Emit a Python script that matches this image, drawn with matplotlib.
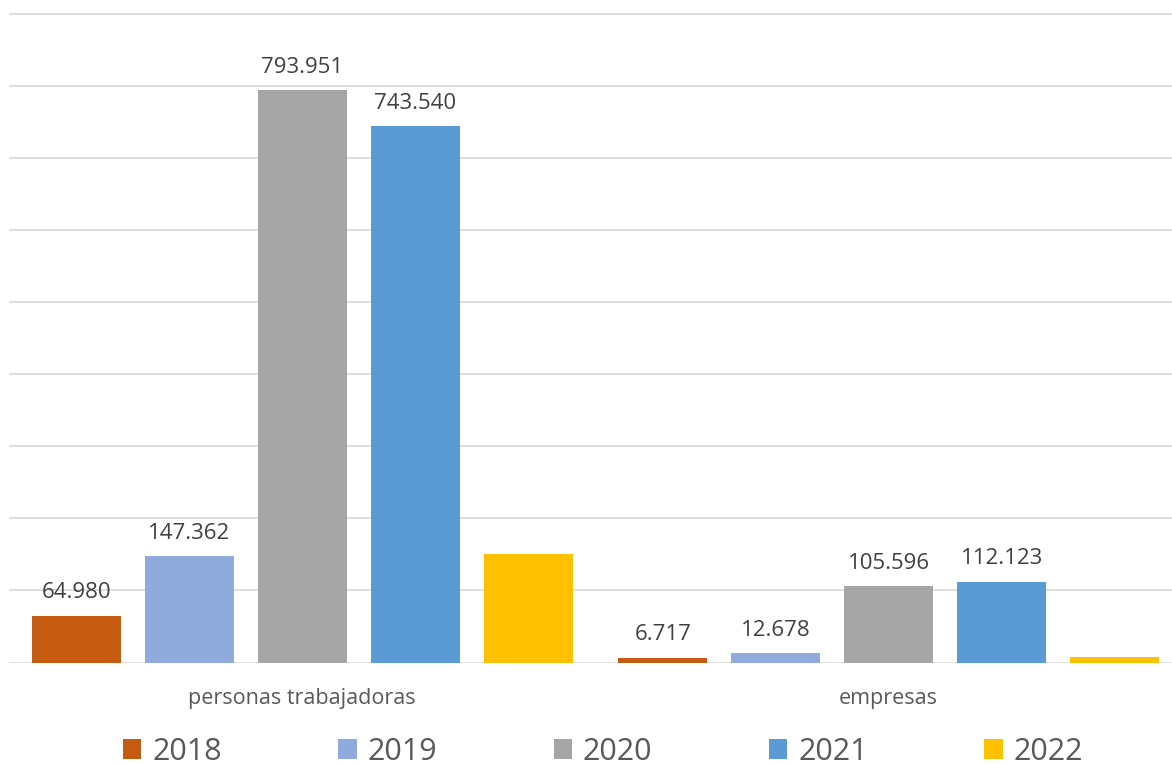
import numpy as np
import matplotlib.pyplot as plt
from matplotlib.patches import Patch

plt.rcParams['font.family'] = ['Open Sans', 'DejaVu Sans']

categories = ['personas trabajadoras', 'empresas']
years = ['2018', '2019', '2020', '2021', '2022']
values = {
    '2018': [64980, 6717],
    '2019': [147362, 12678],
    '2020': [793951, 105596],
    '2021': [743540, 112123],
    '2022': [150800, 7300],
}
# only these years get a value label
labelled = ['2018', '2019', '2020', '2021']
colors = ['#C55A11', '#8FAADC', '#A5A5A5', '#5B9BD5', '#FFC000']

fig = plt.figure(figsize=(11.72, 7.64), dpi=100)
ax = fig.add_axes([9 / 1172, 101.5 / 764, 1173 / 1172, 649 / 764])

x = np.arange(len(categories))
step = 0.1927
width = 0.1517
grid_color = '#D9D9D9'

for i, (year, color) in enumerate(zip(years, colors)):
    pos = x + (i - 2) * step
    bars = ax.bar(pos, values[year], width=width, color=color, zorder=3)
    if year in labelled:
        for b, v in zip(bars, values[year]):
            ax.annotate(f'{v:,}'.replace(',', '.'),
                        (b.get_x() + b.get_width() / 2, v),
                        xytext=(0, 16.5), textcoords='offset points',
                        ha='center', va='center', fontsize=16, color='#404040')

ax.set_xlim(-0.5, 1.5)
ax.set_ylim(0, 900000)
ax.set_yticks(np.arange(0, 900001, 100000))
ax.yaxis.grid(True, color=grid_color, linewidth=1.2)
ax.set_axisbelow(True)
ax.tick_params(axis='y', left=False, labelleft=False)
ax.tick_params(axis='x', bottom=False, labelsize=15.5, labelcolor='#595959', pad=15)
ax.set_xticks(x)
ax.set_xticklabels(categories)
for s in ax.spines.values():
    s.set_visible(False)

handles = [Patch(facecolor=c, edgecolor='none') for c in colors]
fig.legend(handles, years, loc='center', bbox_to_anchor=(0.5145, 0.016), ncol=5,
           frameon=False, fontsize=22, labelcolor='#595959',
           handlelength=0.6, handleheight=0.6, handletextpad=0.35,
           columnspacing=3.82, borderaxespad=0)

fig.savefig('out.png', dpi=100)
